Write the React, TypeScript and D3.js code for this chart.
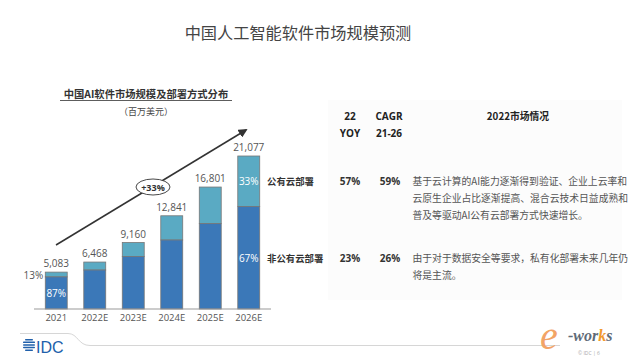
import React from 'react'
import * as d3 from 'd3'

const width = 640
const height = 360
const margin = { top: 156, bottom: 51, left: 37, right: 372 }

const years = ['2021', '2022E', '2023E', '2024E', '2025E', '2026E']
const totals = [5083, 6468, 9160, 12841, 16801, 21077]
// public cloud share in percent
const publicShare = [13, 17, 21, 26, 30, 33]

const tableHead = [['22', 'YOY'], ['CAGR', '21-26']]
const tableRows = [
  {
    yoy: '57%', cagr: '59%',
    lines: ['基于云计算的AI能力逐渐得到验证、企业上云率和', '云原生企业占比逐渐提高、混合云技术日益成熟和', '普及等驱动AI公有云部署方式快速增长。'],
  },
  {
    yoy: '23%', cagr: '26%',
    lines: ['由于对于数据安全等要求，私有化部署未来几年仍', '将是主流。'],
  },
]

const dark = '#3b78b8'
const light = '#5aaac3'
const font = "'Noto Sans CJK SC', 'Open Sans', sans-serif"
const numFont = "'Open Sans', 'Noto Sans CJK SC', sans-serif"

const App = () => {
  const x = d3.scaleBand()
    .domain(years)
    .range([margin.left, width - margin.right])
    .paddingInner(0.43)
    .paddingOuter(0.215)

  const y = d3.scaleLinear()
    .domain([0, d3.max(totals)])
    .range([height - margin.bottom, margin.top])

  const base = y(0)
  const bw = x.bandwidth()
  const fmt = d3.format(',')

  const first = years[0]
  const last = years[years.length - 1]
  const lastI = years.length - 1
  const privLast = totals[lastI] * (100 - publicShare[lastI]) / 100
  const priv0 = totals[0] * (100 - publicShare[0]) / 100

  const arrowLine = d3.line()([[56, 245], [246, 130]])

  return (
    <svg width={width} height={height} style={{ position: 'absolute', left: 0, top: 0, background: '#fff' }}>
      <defs>
        <marker id="ah" viewBox="0 0 10 10" refX="8" refY="5" markerWidth="6" markerHeight="6" orient="auto">
          <path d="M0,0 L10,5 L0,10 z" fill="#333" />
        </marker>
      </defs>

      <text x={298} y={39} textAnchor="middle" fontFamily={font} fontSize={16.2} fill="#444">中国人工智能软件市场规模预测</text>

      <text x={146} y={98} textAnchor="middle" fontFamily={font} fontSize={10.3} fontWeight="bold" fill="#333">中国AI软件市场规模及部署方式分布</text>
      <line x1={60} x2={232} y1={100.5} y2={100.5} stroke="#333" strokeWidth={0.8} />
      <text x={146} y={115} textAnchor="middle" fontFamily={font} fontSize={9} fill="#444">（百万美元）</text>

      <rect x={328} y={100} width={294} height={200} fill="#fcfcfc" />

      {/* arrow + CAGR bubble */}
      <path d={arrowLine ?? ''} stroke="#333" strokeWidth={1.5} fill="none" markerEnd="url(#ah)" />
      <ellipse cx={153} cy={187} rx={17} ry={8} fill="#fff" stroke="#333" strokeWidth={0.9} />
      <text x={153} y={190.5} textAnchor="middle" fontFamily={numFont} fontSize={9} fontWeight="bold" fill="#333">+33%</text>

      {/* bars */}
      {years.map((yr, i) => {
        const total = totals[i]
        const priv = total * (100 - publicShare[i]) / 100
        const bx = x(yr) ?? 0
        return (
          <g key={yr}>
            <rect x={bx} y={y(total)} width={bw} height={y(priv) - y(total)} fill={light} stroke="#777" strokeWidth={0.8} />
            <rect x={bx} y={y(priv)} width={bw} height={base - y(priv)} fill={dark} stroke="#777" strokeWidth={0.8} />
            <text x={bx + bw / 2} y={y(total) - 5} textAnchor="middle" fontFamily={numFont} fontSize={10} fill="#555">{fmt(total)}</text>
            <text x={bx + bw / 2} y={base + 12} textAnchor="middle" fontFamily={numFont} fontSize={9.5} fill="#555">{yr}</text>
          </g>
        )
      })}
      <line x1={34} x2={271} y1={base} y2={base} stroke="#999" strokeWidth={1} />

      {/* share labels */}
      <text x={(x(first) ?? 0) - 2} y={y(totals[0]) + 7} textAnchor="end" fontFamily={numFont} fontSize={10} fill="#555">{publicShare[0]}%</text>
      <text x={(x(first) ?? 0) + bw / 2} y={(y(priv0) + base) / 2 + 4} textAnchor="middle" fontFamily={numFont} fontSize={10} fill="#fff">{100 - publicShare[0]}%</text>
      <text x={(x(last) ?? 0) + bw / 2} y={(y(totals[lastI]) + y(privLast)) / 2 + 4} textAnchor="middle" fontFamily={numFont} fontSize={10} fill="#fff">{publicShare[lastI]}%</text>
      <text x={(x(last) ?? 0) + bw / 2} y={(y(privLast) + base) / 2 + 4} textAnchor="middle" fontFamily={numFont} fontSize={10} fill="#fff">{100 - publicShare[lastI]}%</text>

      <text x={267} y={185} fontFamily={font} fontSize={9.4} fontWeight="bold" fill="#333">公有云部署</text>
      <text x={267} y={262} fontFamily={font} fontSize={9.4} fontWeight="bold" fill="#333">非公有云部署</text>

      {/* table */}
      {tableHead.map((h, i) => (
        <g key={h[0]}>
          <text x={i === 0 ? 350 : 389} y={120} textAnchor="middle" fontFamily={numFont} fontSize={10} fontWeight="bold" fill="#222">{h[0]}</text>
          <text x={i === 0 ? 350 : 389} y={137} textAnchor="middle" fontFamily={numFont} fontSize={10} fontWeight="bold" fill="#222">{h[1]}</text>
        </g>
      ))}
      <text x={518} y={120} textAnchor="middle" fontFamily={font} fontSize={9.8} fontWeight="bold" fill="#222">2022市场情况</text>

      {tableRows.map((r, i) => {
        const ty = i === 0 ? 184.5 : 262
        return (
          <g key={r.yoy}>
            <text x={350} y={ty} textAnchor="middle" fontFamily={numFont} fontSize={10} fontWeight="bold" fill="#333">{r.yoy}</text>
            <text x={390} y={ty} textAnchor="middle" fontFamily={numFont} fontSize={10} fontWeight="bold" fill="#333">{r.cagr}</text>
            {r.lines.map((l, j) => (
              <text key={j} x={412.5} y={ty + j * 17} fontFamily={font} fontSize={9.8} fill="#555">{l}</text>
            ))}
          </g>
        )
      })}

      {/* footer */}
      <path d="M20,333.5 L68,333.5 C78,333.5 78,345.5 90,345.5 L560,345.5" fill="none" stroke="#ccc" strokeWidth={0.8} />
      <g fill="#2160ab">
        {[0, 1, 2, 3, 4].map(k => (
          <rect key={k} x={23 + (k === 0 || k === 4 ? 2 : 0)} y={339 + k * 2.6} width={k === 0 || k === 4 ? 8 : 12} height={1.5} rx={0.7} />
        ))}
      </g>
      <text x={36} y={352.5} fontFamily="'Liberation Sans', Arial, sans-serif" fontSize={16} fill="#2160ab">IDC</text>

      <text x={540} y={349} fontFamily="'Liberation Serif', serif" fontStyle="italic" fontSize={40} fill="#f2a466">e</text>
      <text x={568} y={341} fontFamily="'Liberation Serif', serif" fontStyle="italic" fontWeight="bold" fontSize={16} fill="#5f6b78">
        -wor<tspan fill="#f29a2e">k</tspan>s
      </text>
      <text x={578} y={355} fontFamily={numFont} fontSize={5} fill="#aaa">© IDC |  6</text>
    </svg>
  )
}

export default App
